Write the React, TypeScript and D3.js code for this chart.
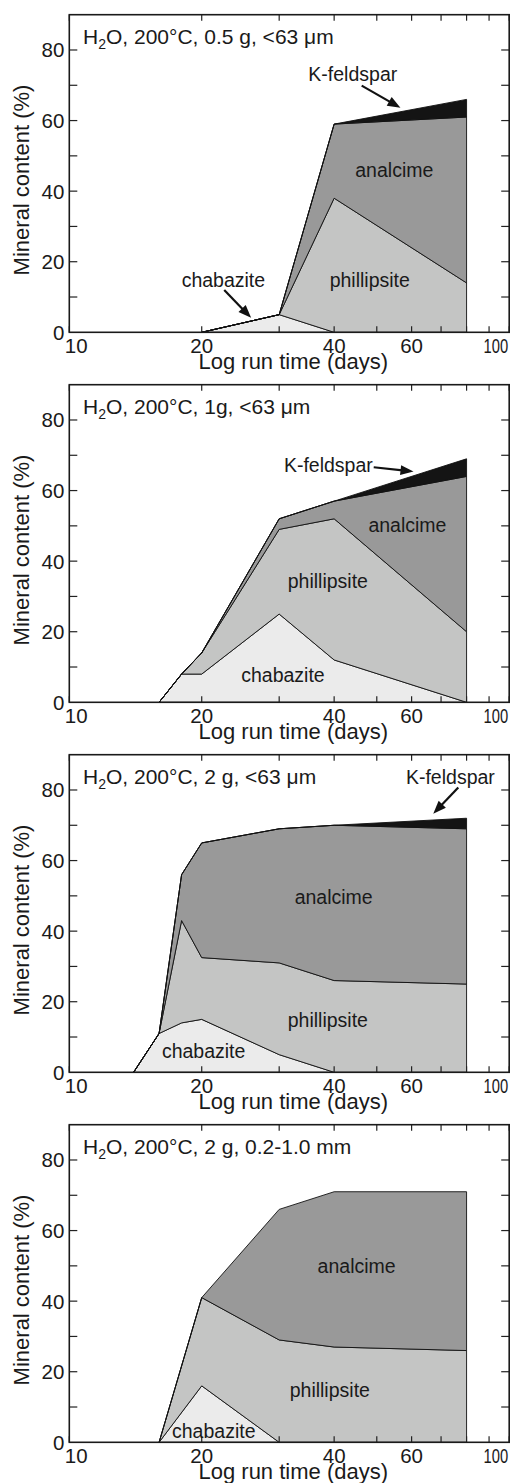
import React from "react";
import * as d3 from "d3";

// mineral series, stacked bottom to top
const mineralKeys = ["chabazite", "phillipsite", "analcime", "kfeldspar"];
const mineralColors = ["#ebebeb", "#c4c5c4", "#999999", "#141414"];

// panel 1: 0.5 g, <63 µm
const daysA = [20, 30, 40, 80];
const chabaziteA = [0, 5, 0, 0];
const phillipsiteA = [0, 0, 38, 14];
const analcimeA = [0, 0, 21, 47];
const kfeldsparA = [0, 0, 0, 5];

// panel 2: 1 g, <63 µm
const daysB = [16, 18, 20, 30, 40, 80];
const chabaziteB = [0, 8, 8, 25, 12, 0];
const phillipsiteB = [0, 0, 6, 24, 40, 20];
const analcimeB = [0, 0, 0, 3, 5, 44];
const kfeldsparB = [0, 0, 0, 0, 0, 5];

// panel 3: 2 g, <63 µm
const daysC = [14, 16, 18, 20, 30, 40, 80];
const chabaziteC = [0, 11, 14, 15, 5, 0, 0];
const phillipsiteC = [0, 0, 29, 17.5, 26, 26, 25];
const analcimeC = [0, 0, 13, 32.5, 38, 44, 44];
const kfeldsparC = [0, 0, 0, 0, 0, 0, 3];

// panel 4: 2 g, 0.2-1.0 mm
const daysD = [16, 20, 30, 40, 80];
const chabaziteD = [0, 16, 0, 0, 0];
const phillipsiteD = [0, 25, 29, 27, 26];
const analcimeD = [0, 0, 37, 44, 45];
const kfeldsparD = [0, 0, 0, 0, 0];

// panel headers (after "H2")
const conditions = [
  "O, 200°C, 0.5 g, <63 μm",
  "O, 200°C, 1g, <63 μm",
  "O, 200°C, 2 g, <63 μm",
  "O, 200°C, 2 g, 0.2-1.0 mm",
];

const xTicks = [10, 20, 30, 40, 50, 60, 70, 80, 90, 100];
const xTickLabels = [10, 20, 40, 60, 100];
const yTicks = [10, 20, 30, 40, 50, 60, 70, 80];
const yTickLabels = [0, 20, 40, 60, 80];

// label anchors in data units [day, %]
const labelsA = [
  { text: "K-feldspar", at: [44.1, 71.1] },
  { text: "analcime", at: [54.8, 44.1] },
  { text: "phillipsite", at: [48.2, 12.7] },
  { text: "chabazite", at: [22.4, 12.9] },
];
const labelsB = [
  { text: "K-feldspar", at: [38.8, 65.4] },
  { text: "analcime", at: [58.7, 48.4] },
  { text: "phillipsite", at: [38.7, 32.4] },
  { text: "chabazite", at: [30.6, 5.8] },
];
const labelsC = [
  { text: "K-feldspar", at: [73.5, 81.7] },
  { text: "analcime", at: [39.9, 47.7] },
  { text: "phillipsite", at: [38.7, 12.9] },
  { text: "chabazite", at: [20.2, 4.0] },
];
const labelsD = [
  { text: "analcime", at: [45.0, 47.9] },
  { text: "phillipsite", at: [39.1, 12.8] },
  { text: "chabazite", at: [21.3, 1.1] },
];

// arrows: from -> tip, data units
const arrowsA = [
  { from: [46.2, 69.9], to: [56.6, 63.6] },
  { from: [22.5, 12.0], to: [25.9, 4.1] },
];
const arrowsB = [{ from: [49.2, 66.6], to: [60.6, 65.4] }];
const arrowsC = [{ from: [76.6, 80.7], to: [67.2, 73.3] }];
const arrowsD: { from: number[]; to: number[] }[] = [];

const panels = [
  { days: daysA, values: [chabaziteA, phillipsiteA, analcimeA, kfeldsparA], labels: labelsA, arrows: arrowsA },
  { days: daysB, values: [chabaziteB, phillipsiteB, analcimeB, kfeldsparB], labels: labelsB, arrows: arrowsB },
  { days: daysC, values: [chabaziteC, phillipsiteC, analcimeC, kfeldsparC], labels: labelsC, arrows: arrowsC },
  { days: daysD, values: [chabaziteD, phillipsiteD, analcimeD, kfeldsparD], labels: labelsD, arrows: arrowsD },
];

const font = "'Liberation Sans', Arial, Helvetica, sans-serif";
const W = 518;
const H = 1483;
const panelStep = 370;
const left = 69.3;
const right = 509.2;
const top = 14.7;
const bottom = 332.3;

const x = d3.scaleLog().domain([10, 100]).range([left, right]);
const y = d3.scaleLinear().domain([0, 90]).range([bottom, top]);

function Arrow({ from, to }: { from: number[]; to: number[] }) {
  const x1 = x(from[0]), y1 = y(from[1]);
  const x2 = x(to[0]), y2 = y(to[1]);
  const ang = Math.atan2(y2 - y1, x2 - x1);
  const len = 13, hw = 5;
  const bx = x2 - len * Math.cos(ang), by = y2 - len * Math.sin(ang);
  const px = -Math.sin(ang) * hw, py = Math.cos(ang) * hw;
  return (
    <g>
      <line x1={x1} y1={y1} x2={bx + Math.cos(ang) * 2} y2={by + Math.sin(ang) * 2} stroke="#111" strokeWidth={2.2} />
      <polygon points={`${x2},${y2} ${bx + px},${by + py} ${bx - px},${by - py}`} fill="#111" />
    </g>
  );
}

function Panel({ index }: { index: number }) {
  const p = panels[index];
  const rows = p.days.map((day, i) => {
    const r: any = { day };
    mineralKeys.forEach((k, j) => (r[k] = p.values[j][i]));
    return r;
  });
  const stacked = d3.stack<any>().keys(mineralKeys)(rows);
  const area = d3
    .area<any>()
    .x((d) => x(d.data.day))
    .y0((d) => y(d[0]))
    .y1((d) => y(d[1]));

  return (
    <g transform={`translate(0,${index * panelStep})`}>
      {stacked.map((s, j) =>
        p.values[j].some((v) => v > 0) ? (
          <path key={s.key} d={area(s) || ""} fill={mineralColors[j]} stroke="#111" strokeWidth={0.9} strokeLinejoin="round" />
        ) : null
      )}

      {/* ticks, inward on all sides */}
      {xTicks.map((t) => (
        <g key={"xt" + t}>
          <line x1={x(t)} x2={x(t)} y1={bottom} y2={bottom - 6} stroke="#222" strokeWidth={1.2} />
          <line x1={x(t)} x2={x(t)} y1={top} y2={top + 6} stroke="#222" strokeWidth={1.2} />
        </g>
      ))}
      {yTicks.map((t) => (
        <g key={"yt" + t}>
          <line x1={left} x2={left + 8} y1={y(t)} y2={y(t)} stroke="#222" strokeWidth={1.2} />
          <line x1={right} x2={right - 8} y1={y(t)} y2={y(t)} stroke="#222" strokeWidth={1.2} />
        </g>
      ))}
      <rect x={left} y={top} width={right - left} height={bottom - top} fill="none" stroke="#1a1a1a" strokeWidth={1.6} />

      {/* tick labels */}
      {yTickLabels.map((t) => (
        <text key={"yl" + t} x={left - 5} y={y(t)} dy="0.36em" textAnchor="end" fontSize={20.5} fill="#1a1a1a">
          {t}
        </text>
      ))}
      {xTickLabels.map((t, i) => {
        const first = i === 0;
        const last = i === xTickLabels.length - 1;
        if (last) {
          // squeezed against the right frame, as in the original
          return (
            <text
              key={"xl" + t}
              transform={`translate(${right - 1},${bottom + 21}) scale(0.72,1)`}
              textAnchor="end"
              fontSize={20.5}
              fill="#1a1a1a"
            >
              {t}
            </text>
          );
        }
        return (
          <text
            key={"xl" + t}
            x={first ? x(t) - 4.5 : x(t)}
            y={bottom + 21}
            textAnchor={first ? "start" : "middle"}
            fontSize={20.5}
            fill="#1a1a1a"
          >
            {t}
          </text>
        );
      })}

      {/* axis titles */}
      <text x={(left + right) / 2 + 4} y={369} textAnchor="middle" fontSize={22} fill="#1a1a1a">
        Log run time (days)
      </text>
      <text transform="translate(28.7,180) rotate(-90)" textAnchor="middle" fontSize={22} fill="#1a1a1a">
        Mineral content (%)
      </text>

      {/* condition header */}
      <text x={83} y={44.3} fontSize={21} fill="#1a1a1a">
        H
        <tspan fontSize={14} dy={5}>2</tspan>
        <tspan dy={-5}>{conditions[index]}</tspan>
      </text>

      {/* mineral labels */}
      {p.labels.map((l) => (
        <text key={l.text} x={x(l.at[0])} y={y(l.at[1])} textAnchor="middle" fontSize={19.5} fill="#1a1a1a">
          {l.text}
        </text>
      ))}
      {p.arrows.map((a, i) => (
        <Arrow key={i} from={a.from} to={a.to} />
      ))}
    </g>
  );
}

export default function App() {
  return (
    <svg
      width={W}
      height={H}
      style={{ position: "absolute", left: 0, top: 0, background: "#fff", fontFamily: font }}
    >
      {panels.map((_, i) => (
        <Panel key={i} index={i} />
      ))}
    </svg>
  );
}
